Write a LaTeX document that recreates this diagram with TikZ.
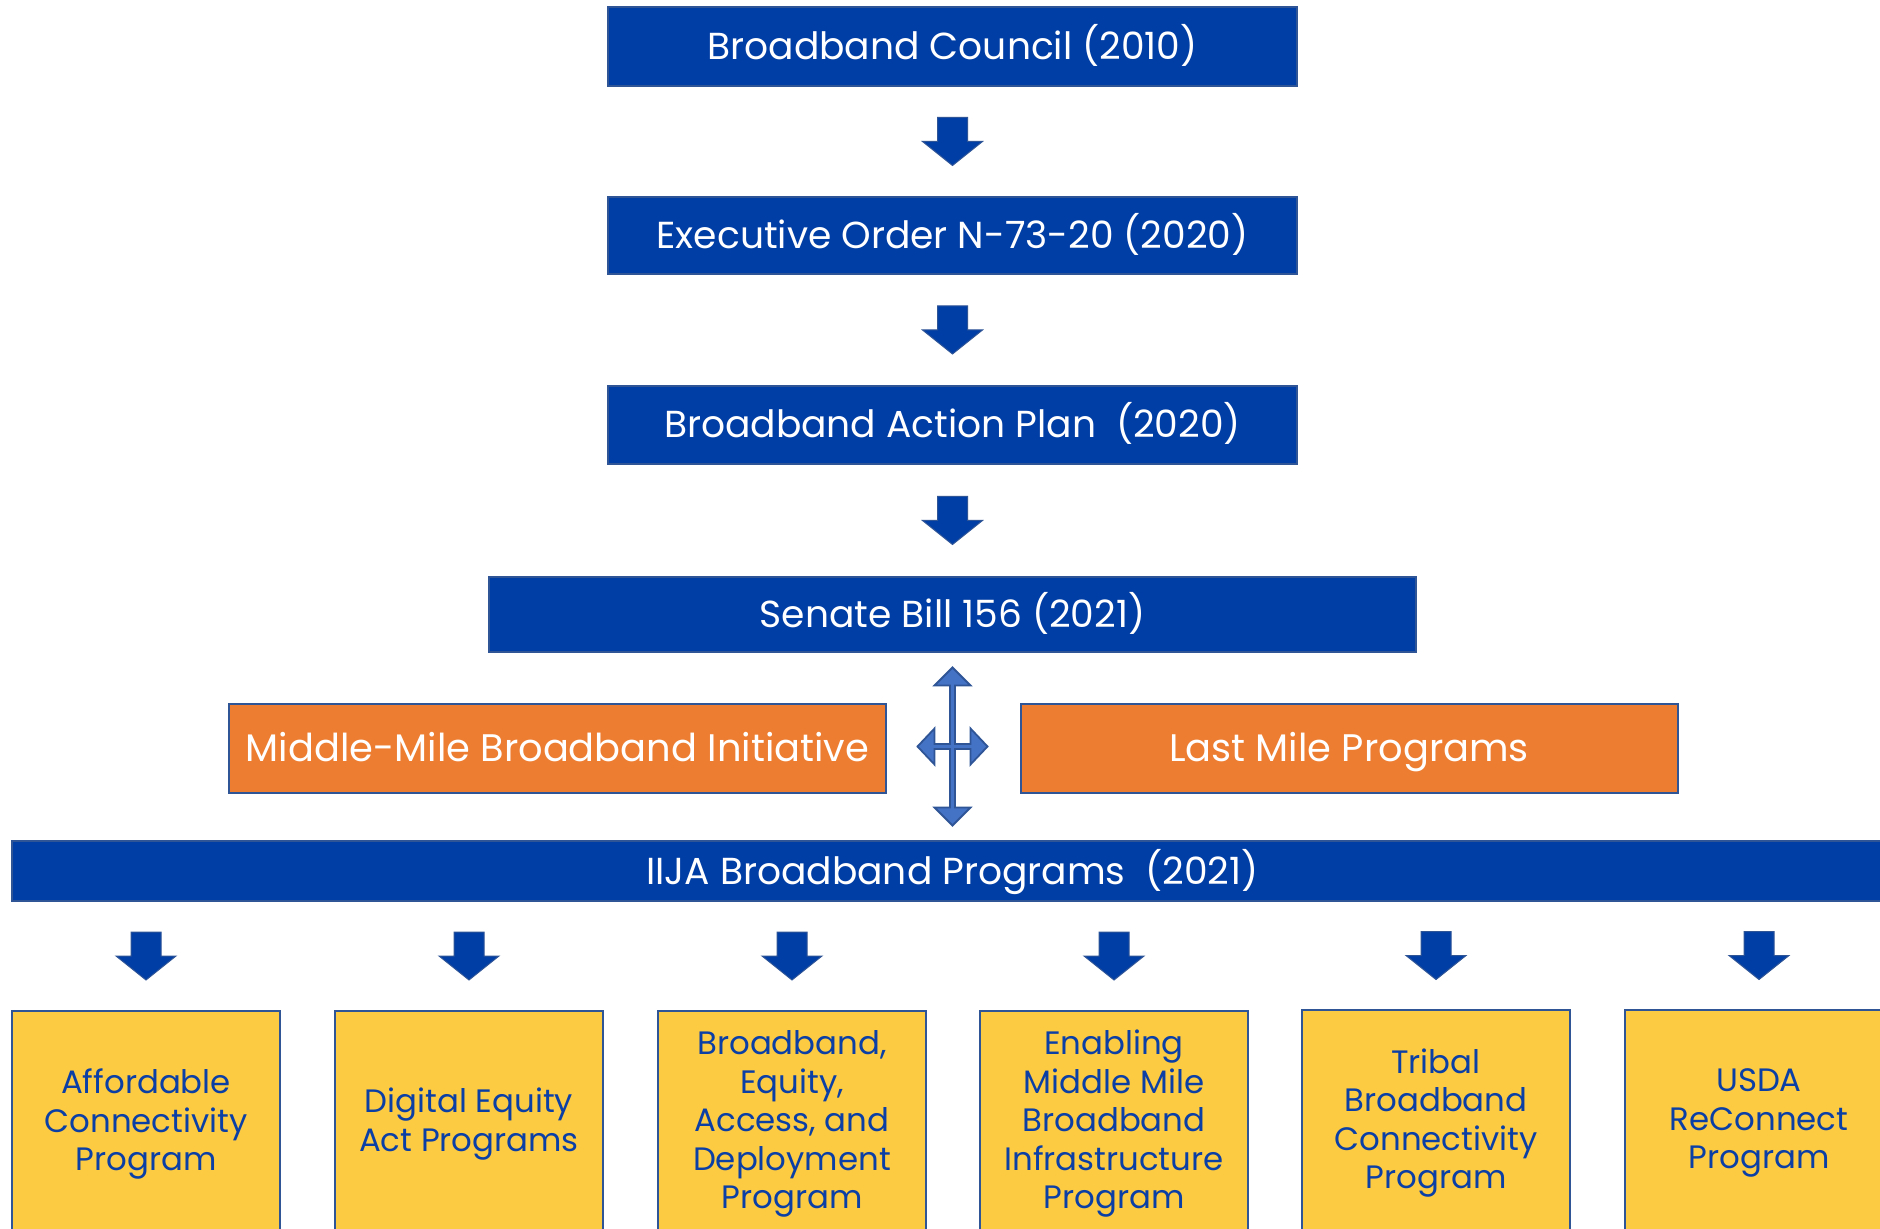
\documentclass[tikz,border=0pt]{standalone}
\usepackage{fontspec}
\setmainfont{Poppins}
\usetikzlibrary{calc}
\definecolor{bfill}{HTML}{003DA5}
\definecolor{bline}{HTML}{2F5597}
\definecolor{ofill}{HTML}{ED7D31}
\definecolor{yfill}{HTML}{FDCB42}
\definecolor{afill}{HTML}{4472C4}
\definecolor{ytext}{HTML}{0B3FA6}
\begin{document}
\begin{tikzpicture}[x=0.5pt,y=-0.5pt,
  bluebox/.style={draw=bline, line width=1pt, fill=bfill, text=white, inner sep=0pt,
    text height=13pt, text depth=0pt, font=\fontsize{18.8}{22}\selectfont},
  orangebox/.style={draw=bline, line width=1pt, fill=ofill, text=white, inner sep=0pt,
    minimum width=328.5pt, minimum height=44.5pt, text height=13pt, text depth=0pt,
    font=\fontsize{19.2}{22}\selectfont},
  yellowbox/.style={draw=bline, line width=1pt, fill=yfill, text=ytext, inner sep=0pt,
    minimum width=134pt, minimum height=113pt, align=center,
    font=\fontsize{16.2}{19.25}\selectfont},
  downarr/.pic={\path[fill=bfill, draw=bline, line width=0.5pt]
    (-15,-24) -- (15,-24) -- (15,0) -- (30,0) -- (0,24) -- (-30,0) -- (-15,0) -- cycle;},
  fourarr/.pic={\path[fill=afill, draw=bline, line width=0.9pt]
    (0,-79) -- (18,-61) -- (2.5,-61) -- (2.5,-2.5) -- (18,-2.5) -- (18,-18) -- (35,0)
    -- (18,18) -- (18,2.5) -- (2.5,2.5) -- (2.5,61) -- (18,61) -- (0,79) -- (-18,61)
    -- (-2.5,61) -- (-2.5,2.5) -- (-18,2.5) -- (-18,18) -- (-35,0) -- (-18,-18)
    -- (-18,-2.5) -- (-2.5,-2.5) -- (-2.5,-61) -- (-18,-61) -- cycle;}
]
\useasboundingbox (0,0) rectangle (1880,1229);
\clip (0,0) rectangle (1880,1229);
\fill[white] (0,0) rectangle (1880,1229);

\node[bluebox, minimum width=344.5pt, minimum height=39.5pt] (bc) at (952.5,46.5) {Broadband Council (2010)};
\node[bluebox, minimum width=344.5pt, minimum height=38.5pt] (eo) at (952.5,235.5) {Executive Order N-73-20 (2020)};
\node[bluebox, minimum width=344.5pt, minimum height=39pt] (bap) at (952.5,425) {Broadband Action Plan~ (2020)};
\node[bluebox, minimum width=463.5pt, minimum height=37.5pt] (sb) at (952.5,614.5) {Senate Bill 156 (2021)};
\node[orangebox] (mm) at (557.5,748.5) {Middle-Mile Broadband Initiative};
\node[orangebox] (lm) at (1349,748.5) {Last Mile Programs};
\node[bluebox, minimum width=940.5pt, minimum height=30pt] (iija) at (952.5,871) {IIJA Broadband Programs~ (2021)};

\node[yellowbox] (p1) at (146,1124) {Affordable\\Connectivity\\Program};
\node[yellowbox] (p2) at (469,1124) {Digital Equity\\Act Programs};
\node[yellowbox] (p3) at (792,1124) {Broadband,\\Equity,\\Access, and\\Deployment\\Program};
\node[yellowbox] (p4) at (1114,1124) {Enabling\\Middle Mile\\Broadband\\Infrastructure\\Program};
\node[yellowbox] (p5) at (1436,1123) {Tribal\\Broadband\\Connectivity\\Program};
\node[yellowbox] (p6) at (1759,1123) {USDA\\ReConnect\\Program};

\pic at ($(bc.south)!0.5!(eo.north)$) {downarr};
\pic at ($(eo.south)!0.5!(bap.north)$) {downarr};
\pic at ($(bap.south)!0.5!(sb.north)$) {downarr};
\pic at ($(sb.south)!0.5!(iija.north)$) {fourarr};
\foreach \p in {p1,p2,p3,p4,p5,p6}{
  \pic at ($(\p.north)!0.5!(\p.north |- iija.south)$) {downarr};
}
\end{tikzpicture}
\end{document}
